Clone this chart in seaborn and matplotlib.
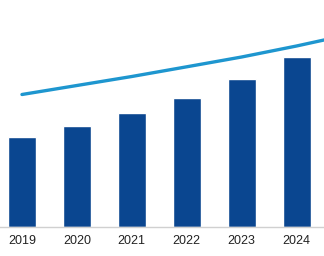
import matplotlib
matplotlib.use("Agg")
import matplotlib.pyplot as plt
import seaborn as sns
import pandas as pd

years = ["2019", "2020", "2021", "2022", "2023", "2024"]
bar_values = [90.3, 101.3, 113.7, 129.0, 147.7, 170.3]
trend_x = [0, 1, 2, 3, 4, 5, 6]
trend_values = [132.5, 141.5, 150.5, 160.2, 170.0, 181.0, 193.0]

sns.set_theme(style="white")
plt.rcParams['font.family'] = ['Liberation Sans', 'DejaVu Sans']

fig = plt.figure(figsize=(3.24, 2.56), dpi=100)
ax = fig.add_axes([0, 29 / 256, 1, 227 / 256])

df = pd.DataFrame({"year": years, "value": bar_values})
sns.barplot(data=df, x="year", y="value", color="#0a4690", saturation=1,
            width=0.51, ax=ax)
sns.lineplot(x=trend_x, y=trend_values, color="#1e96cf", linewidth=2.4,
             ax=ax, legend=False)

ax.set_xlim(-0.4, 5.5)
ax.set_ylim(0, 227)
ax.set_xlabel("")
ax.set_ylabel("")
ax.set_yticks([])
ax.tick_params(axis="x", length=0, pad=5.5, labelsize=9, colors="#222222")
for s in ["top", "left", "right"]:
    ax.spines[s].set_visible(False)
ax.spines["bottom"].set_color("#d0d0d0")
ax.spines["bottom"].set_linewidth(1)
ax.patch.set_alpha(0)

fig.savefig("out.png", dpi=100)
